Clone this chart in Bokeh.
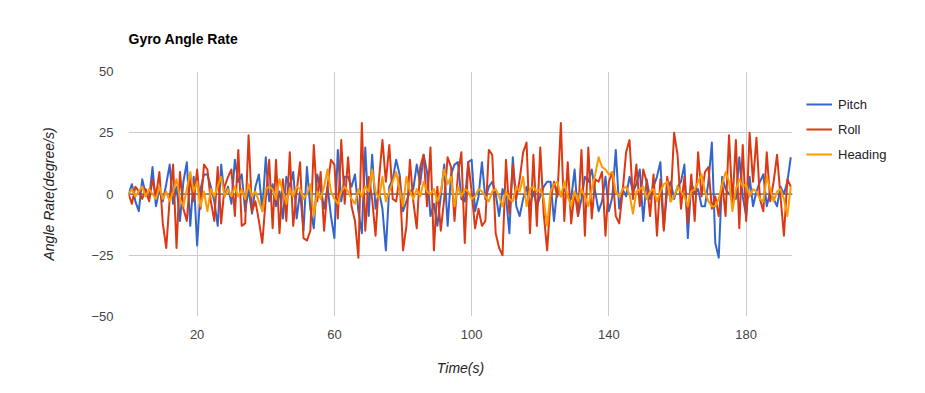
from bokeh.plotting import figure
from bokeh.models import Range1d, FixedTicker, Legend, LegendItem, Span, ColumnDataSource
from bokeh.embed import file_html
from bokeh.resources import INLINE

# ---- data (one sample per second) ----
time = list(range(194))

pitch = [
    0, 4, -3, -7, 6, 0, -2, 11, -5, 2, -3, 4, 12, -4, 3, -11, 5, 13, -13, 7, -21, 2, 8, 8, 3, -3, -13, 12, -1, 3, -4, 14,
    5, 8, -7, 2, -8, 3, 8, -7, 15, -3, 4, -5, 1, -10, 7, 3, 9, -10, 1, -15, 11, -6, -14, 8, 2, -6, 3, -9, -18, 18, -3, 7,
    7, 3, 8, -7, -16, 19, -9, 16, -6, 1, -6, -23, 3, 6, 14, 8, -7, -3, 1, 2, 12, 4, 16, 9, -9, -4, -13, -1, 12, -13, 8, 12,
    13, -2, -3, 13, 14, -7, -1, 13, -2, 3, 5, 0, -9, 2, -1, -16, 15, -5, -9, -2, 3, -5, 1, -5, -1, 3, 5, 5, -11, 3, -1, 2,
    -1, -2, 10, -9, -2, 7, 5, 10, 1, -7, -3, 7, -7, -1, 18, -6, 2, -1, 7, 1, 4, 10, -11, 6, -2, 3, 7, 13, -14, 2, 5, -2,
    3, 5, 12, -18, 5, 0, 2, -5, -5, 5, 21, -20, -26, 7, 2, 0, -1, -2, 15, -1, -9, 7, -5, 1, 5, 8, -5, 1, -2, -5, 3, 0, 5, 15,
]

roll = [
    0, -4, 3, 1, -2, 2, -3, 6, -1, 9, -12, -22, -2, 12, -22, 9, -6, -11, 7, -3, 10, -6, 12, 10, -3, -11, 11, -12, 3, 7, 10, -9,
    18, -13, -12, 24, -7, -3, -11, -20, -2, 14, -14, 14, -16, 6, -11, 17, -13, 1, 13, -18, -19, -15, 20, -3, 9, -15, 3, 14, 12, -10, 22, -4,
    15, -5, -11, -26, 29, -15, 7, -2, -17, 6, 22, 5, 20, -2, -3, 7, -23, -13, 14, -3, -14, 11, 16, -5, 19, -23, 3, -15, -2, 15, 11, -11,
    8, 17, -20, 13, 1, -14, -6, -13, -11, 18, 16, -16, -22, -25, 14, -8, 12, -2, 6, 17, 21, -16, 16, -13, 19, -8, -23, -2, 5, -1, 29, -11,
    13, -12, 1, -9, 18, -17, 19, -10, 6, 5, 9, -17, 5, 9, -9, -12, 1, 17, 22, -2, 12, -5, 10, 5, -9, 8, -17, 6, -15, 7, -3, 25,
    16, -6, 7, -12, 8, -11, 17, -1, 9, 11, -6, -1, -9, 5, -9, 24, -4, 22, -14, 20, -11, 25, 5, 23, -2, -7, 17, -3, 5, 16, -1, -17, 6, 3,
]

heading = [
    0, 2, -1, 1, 3, -1, 2, 0, -2, 3, -2, 1, -3, 1, 6, -2, -5, 2, 9, 1, 5, -5, 1, -7, 2, -1, 3, 7, -1, 2, -1, 3,
    -1, 2, -2, 4, -1, 1, -3, -7, 2, 3, 2, -2, 6, 1, -4, 2, -1, 3, 2, -2, 0, 4, -9, 1, -2, 3, 10, 1, -2, -4, 1, 3,
    1, -2, -4, 2, -1, 3, 1, 10, 1, -2, 7, -3, 1, 5, 9, 2, -5, 7, 1, -2, 2, -1, 5, 1, 0, 2, -3, 1, 10, 4, 7, -5,
    3, -1, 2, 1, -2, -1, 2, 1, -1, -3, 1, 2, -1, -5, 1, -2, -3, 3, 1, 7, -5, 2, 3, 1, 2, -2, -13, 1, 4, 5, -1, 5,
    -1, -5, 1, -3, 2, -1, -5, 2, 8, 15, 11, 10, 8, 9, 1, -1, 2, 3, 0, -8, 1, 2, 3, -2, 1, 2, -3, 1, 4, 5, -3, -1,
    3, 1, -1, -5, 1, 2, 5, 8, 1, -3, -5, -5, -2, 4, 9, 5, -7, 2, 6, 3, 4, -1, 2, 1, -2, -3, 7, 2, -3, 1, 2, -2, -9, 3,
]

series_names = ["Pitch", "Roll", "Heading"]
series_colors = ["#3366cc", "#dc3912", "#ff9900"]
x_ticks = [20, 60, 100, 140, 180]
y_ticks = [-50, -25, 0, 25, 50]
x_limits = (0, 193.5)
y_limits = (-50, 50)
baseline = 0

FONT = "Liberation Sans"

p = figure(
    frame_width=664, frame_height=245,
    output_backend="svg", toolbar_location=None,
    x_range=Range1d(*x_limits), y_range=Range1d(*y_limits),
    min_border_left=128, min_border_right=133,
    min_border_top=71, min_border_bottom=74,
    background_fill_color="white", border_fill_color="white",
)
p.outline_line_color = None

p.title.text = "Gyro Angle Rate"
p.title.text_font = FONT
p.title.text_font_size = "14px"
p.title.text_font_style = "bold"
p.title.text_color = "#000000"
p.title.align = "left"
p.title.standoff = 50

# axes
for ax in (p.xaxis[0], p.yaxis[0]):
    ax.axis_line_color = None
    ax.major_tick_line_color = None
    ax.minor_tick_line_color = None
    ax.major_tick_out = 0
    ax.major_tick_in = 0
    ax.minor_tick_out = 0
    ax.major_label_text_font = FONT
    ax.major_label_text_font_size = "13px"
    ax.major_label_text_color = "#444444"
    ax.axis_label_text_font = FONT
    ax.axis_label_text_font_size = "14px"
    ax.axis_label_text_font_style = "italic"
    ax.axis_label_text_color = "#222222"

p.xaxis.ticker = FixedTicker(ticks=x_ticks)
p.yaxis.ticker = FixedTicker(ticks=y_ticks)
p.xaxis.axis_label = "Time(s)"
p.yaxis.axis_label = "Angle Rate(degree/s)"
p.xaxis.major_label_standoff = 13
p.xaxis.axis_label_standoff = 18
p.yaxis.major_label_standoff = 15
p.yaxis.axis_label_standoff = 31

p.xgrid.ticker = FixedTicker(ticks=x_ticks)
p.ygrid.ticker = FixedTicker(ticks=y_ticks)
p.xgrid.grid_line_color = "#cccccc"
p.ygrid.grid_line_color = "#cccccc"

p.add_layout(Span(location=baseline, dimension="width", line_color="#333333",
                  line_width=1, level="underlay"))

src = ColumnDataSource(dict(time=time, pitch=pitch, roll=roll, heading=heading))
renderers = []
for name, col, color in zip(series_names, ["pitch", "roll", "heading"], series_colors):
    r = p.line("time", col, source=src, line_color=color, line_width=2, line_join="round")
    renderers.append(r)

legend = Legend(
    items=[LegendItem(label=n, renderers=[r]) for n, r in zip(series_names, renderers)],
    location="top_left",
    orientation="vertical",
    border_line_color=None,
    background_fill_alpha=0,
    margin=14, padding=0, spacing=1,
    glyph_width=26, glyph_height=24, label_height=24,
    label_standoff=6,
    title=" ", title_text_font_size="3px", title_standoff=3,
    label_text_font=FONT, label_text_font_size="13px", label_text_color="#222222",
)
p.add_layout(legend, "right")

open("out.html", "w").write(file_html(p, INLINE))
